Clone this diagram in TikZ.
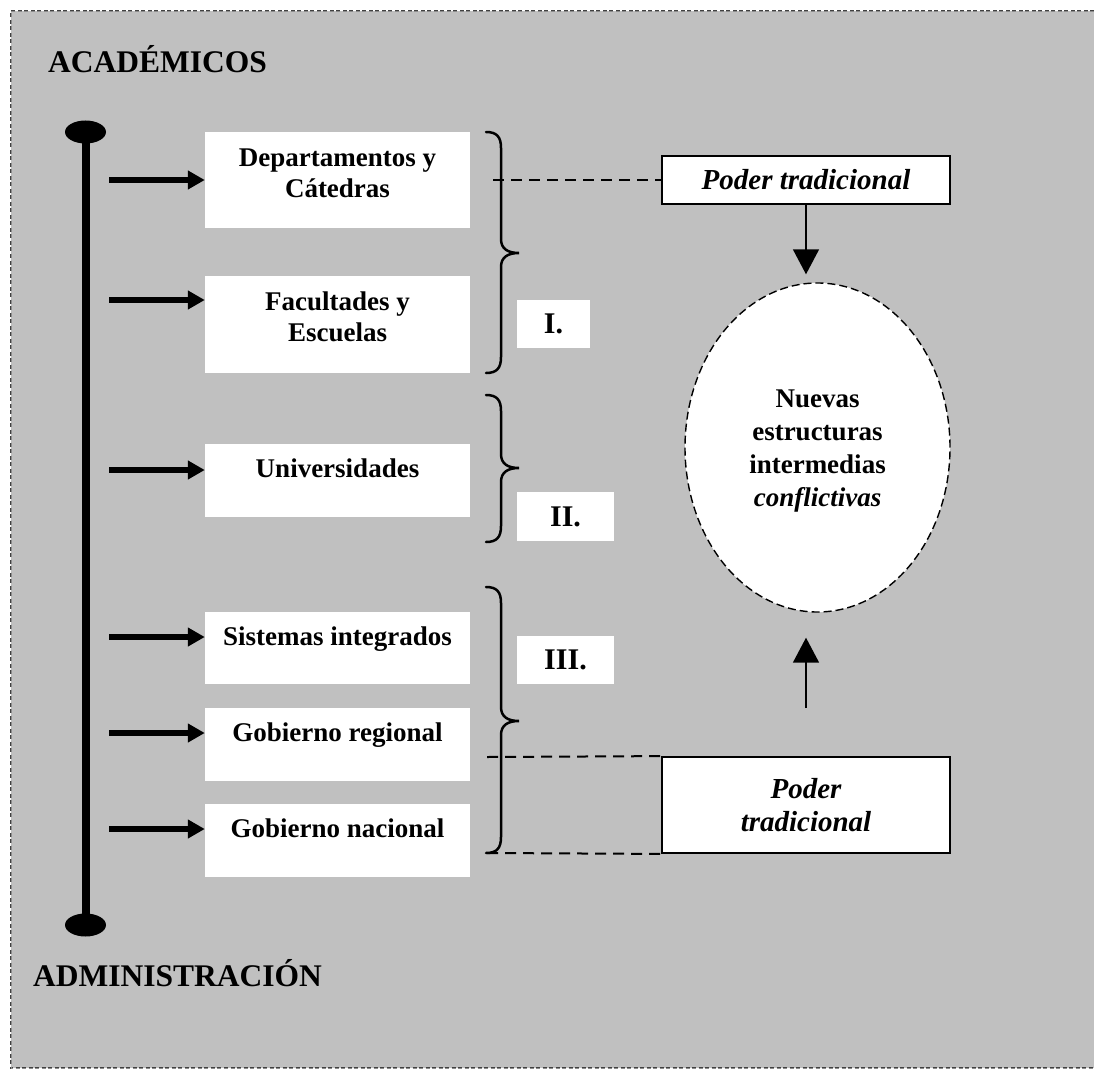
\documentclass[tikz,border=0pt]{standalone}
\usepackage{fontspec}
\setmainfont{Liberation Serif}
\usetikzlibrary{arrows.meta,shapes.geometric}
\definecolor{panelgray}{HTML}{C0C0C0}
% curly bracket opening to the left, pointing right: top, tip, bottom
\newcommand\levelbrace[3]{%
  \draw[bracket] (486,#1) .. controls (497,#1) and (501,#1+5) .. (501,#1+16)
    -- (501,#2-14) .. controls (501,#2-4) and (508,#2) .. (519,#2)
    .. controls (508,#2) and (501,#2+4) .. (501,#2+14)
    -- (501,#3-16) .. controls (501,#3-5) and (497,#3) .. (486,#3);}
\begin{document}
\begin{tikzpicture}[x=1pt,y=-1pt,
  body/.style={font=\fontsize{27}{31}\selectfont\bfseries, inner sep=0pt, align=center},
  title/.style={font=\fontsize{31.5}{36}\selectfont\bfseries, inner sep=0pt, anchor=base west},
  unitbox/.style={fill=white, inner sep=0pt, minimum width=265pt},
  numbox/.style={fill=white, inner sep=0pt, font=\fontsize{30}{36}\selectfont\bfseries},
  powerbox/.style={draw=black, line width=1.8pt, fill=white, inner sep=0pt,
    minimum width=288pt, align=center, font=\fontsize{29}{33}\selectfont\bfseries\itshape},
  levelarrow/.style={line width=6pt, -{Triangle[length=17pt,width=18pt]}},
  flowarrow/.style={line width=1.6pt, -{Triangle[length=25pt,width=26pt]}},
  guide/.style={line width=2pt, dash pattern=on 11pt off 7pt},
  bracket/.style={line width=2.5pt, line cap=round},
  framedash/.style={draw=black!75, line width=0.6pt, double=black!45, double distance=0.9pt,
    dash pattern=on 4pt off 2.5pt},
]
\useasboundingbox (0,0) rectangle (1094,1070);

% panel and its dashed frame
\fill[panelgray] (11,11) rectangle (1094,1068);
\draw[framedash] (1094,11) -- (11,11) -- (11,1068) -- (1094,1068);

% titles
\node[title] (acad) at (48,73) {ACADÉMICOS};
\node[title] (admin) at (33,986) {ADMINISTRACIÓN};

% academic--administration axis
\coordinate (axtop) at (85.5,132);
\coordinate (axbot) at (85.5,925);
\draw[line width=8pt] (axtop) -- (axbot);
\fill (axtop) ellipse [x radius=20.5, y radius=11.5];
\fill (axbot) ellipse [x radius=20.5, y radius=11.5];

% levels
\node[unitbox, minimum height=96pt] (b1) at (337.5,180) {};
\node[unitbox, minimum height=97pt] (b2) at (337.5,324.5) {};
\node[unitbox, minimum height=73pt] (b3) at (337.5,480.5) {};
\node[unitbox, minimum height=72pt] (b4) at (337.5,648) {};
\node[unitbox, minimum height=73pt] (b5) at (337.5,744.5) {};
\node[unitbox, minimum height=73pt] (b6) at (337.5,840.5) {};

% two-line labels: the base anchor sits on the last line
\node[body, anchor=base] (t1) at ([yshift=-66pt]b1.north) {Departamentos y\\Cátedras};
\node[body, anchor=base] (t2) at ([yshift=-66pt]b2.north) {Facultades y\\Escuelas};
\node[body, anchor=base] (t3) at ([yshift=-34pt]b3.north) {Universidades};
\node[body, anchor=base] (t4) at ([yshift=-34pt]b4.north) {Sistemas integrados};
\node[body, anchor=base] (t5) at ([yshift=-34pt]b5.north) {Gobierno regional};
\node[body, anchor=base] (t6) at ([yshift=-34pt]b6.north) {Gobierno nacional};

% arrows from the axis to each level
\coordinate (s1) at (109,180);
\coordinate (s2) at (109,300);
\coordinate (s3) at (109,470);
\coordinate (s4) at (109,637);
\coordinate (s5) at (109,733);
\coordinate (s6) at (109,829);
\draw[levelarrow] (s1) -- (s1 -| b1.west);
\draw[levelarrow] (s2) -- (s2 -| b2.west);
\draw[levelarrow] (s3) -- (s3 -| b3.west);
\draw[levelarrow] (s4) -- (s4 -| b4.west);
\draw[levelarrow] (s5) -- (s5 -| b5.west);
\draw[levelarrow] (s6) -- (s6 -| b6.west);

% groupings
\levelbrace{132}{253}{373}
\levelbrace{395}{468}{542}
\levelbrace{587}{721}{853}

\node[numbox, minimum width=73pt, minimum height=48pt] (n1) at (553.5,324) {I.};
\node[numbox, minimum width=97pt, minimum height=49pt] (n2) at (565.5,516.5) {II.};
\node[numbox, minimum width=97pt, minimum height=48pt] (n3) at (565.5,660) {III.};

% traditional power
\node[powerbox, minimum height=48pt] (p1) at (806,180) {Poder tradicional};
\node[powerbox, minimum height=96pt] (p2) at (806,805) {Poder\\tradicional};

% new intermediate structures
\node[draw, ellipse, fill=white, line width=1.4pt, dash pattern=on 8pt off 4pt,
  minimum width=265pt, minimum height=329pt, inner sep=0pt, align=center,
  font=\fontsize{27}{33}\selectfont\bfseries] (ell) at (817.5,447.5) {};
\node[font=\fontsize{27}{33}\selectfont\bfseries, align=center, inner sep=0pt]
  (elltext) at ([yshift=-4pt]ell.center)
  {Nuevas\\estructuras\\intermedias\\\textit{conflictivas}};

% dashed guides
\coordinate (g1) at (493,180);
\coordinate (g2) at (487,757);
\coordinate (g3) at (487,853);
\draw[guide] (g1) -- (p1.west);
\draw[guide] (g2) -- (p2.north west);
\draw[guide] (g3) -- (p2.south west);

% influence arrows
\draw[flowarrow, shorten >=8pt] (p1.south) -- (p1.south |- ell.north);
\draw[flowarrow, shorten <=48pt, shorten >=25pt] (p2.north) -- (p2.north |- ell.south);
\end{tikzpicture}
\end{document}
